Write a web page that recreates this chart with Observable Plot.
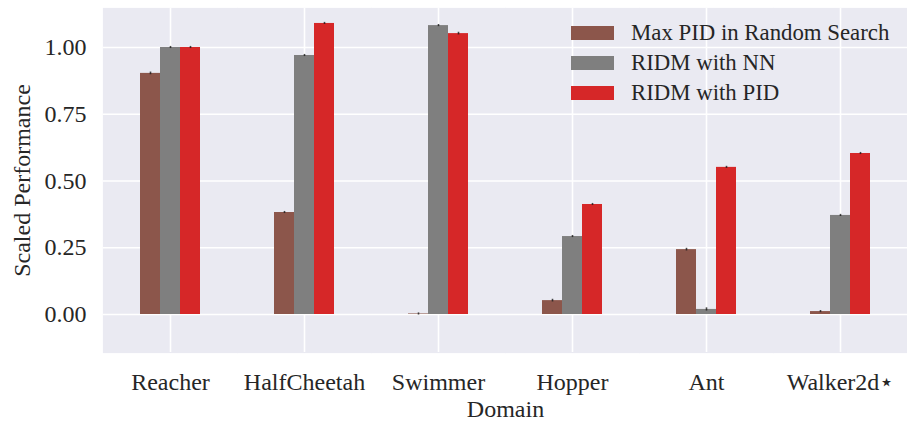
<!DOCTYPE html>
<html>
<head>
<meta charset="utf-8">
<script src="https://cdn.jsdelivr.net/npm/d3@7"></script>
<script src="https://cdn.jsdelivr.net/npm/@observablehq/plot@0.6"></script>
<style>
  body { margin: 0; background: #fff; }
  #chart { position: relative; width: 907px; height: 422px; font-family: "Liberation Serif", serif; }
  .legend { position: absolute; left: 571px; top: 18px; color: #262626; font-size: 22.8px; line-height: 1; }
  .legend .row { display: flex; align-items: center; height: 30px; }
  .legend .sw { width: 43px; height: 14px; margin-right: 17px; flex: none; }
</style>
</head>
<body>
<div id="chart"></div>
<script>
// Benchmark domains and the three methods compared in each
const domains = ["Reacher", "HalfCheetah", "Swimmer", "Hopper", "Ant", "Walker2d\u22C6"];
const series = ["Max PID in Random Search", "RIDM with NN", "RIDM with PID"];
const colors = ["#8c564b", "#7f7f7f", "#d62728"];

// Mean scaled performance per domain, one array per method
const maxPidRandom = [0.903, 0.382, 0.002, 0.052, 0.243, 0.011];
const ridmNN       = [1.000, 0.970, 1.082, 0.292, 0.019, 0.371];
const ridmPID      = [1.000, 1.090, 1.052, 0.412, 0.551, 0.603];

// Half-width of the error bars
const errMaxPid = [0.005, 0.004, 0.004, 0.005, 0.005, 0.004];
const errNN     = [0.004, 0.004, 0.004, 0.004, 0.006, 0.004];
const errPID    = [0.004, 0.004, 0.005, 0.004, 0.004, 0.004];

const yTicks = [0, 0.25, 0.5, 0.75, 1.0];

const values = [maxPidRandom, ridmNN, ridmPID];
const errs = [errMaxPid, errNN, errPID];
const rows = [];
domains.forEach((d, i) => {
  series.forEach((s, j) => {
    rows.push({domain: d, series: s, value: values[j][i], err: errs[j][i]});
  });
});

const chart = Plot.plot({
  width: 907,
  height: 422,
  marginLeft: 103,
  marginRight: 0,
  marginTop: 8,
  marginBottom: 70,
  style: {fontFamily: "'Liberation Serif', serif", fontSize: "24px", color: "#262626", background: "transparent"},
  fx: {domain: domains, padding: 0},
  x: {domain: series, paddingInner: 0, paddingOuter: 1.85, axis: null},
  y: {domain: [-0.1423, 1.146]},
  color: {domain: series, range: colors},
  marks: [
    // panel background; slight overlap hides seams between facets
    Plot.frame({fill: "#eaeaf2", stroke: null, inset: -0.6}),
    Plot.gridY({ticks: yTicks, stroke: "white", strokeOpacity: 1, strokeWidth: 1.6}),
    Plot.gridFx({stroke: "white", strokeOpacity: 1, strokeWidth: 1.6}),
    Plot.barY(rows, {fx: "domain", x: "series", y: "value", fill: "series", inset: 0}),
    Plot.ruleX(rows, {
      fx: "domain", x: "series",
      y1: d => d.value - d.err, y2: d => d.value + d.err,
      stroke: "#1a1a1a", strokeOpacity: 0.8, strokeWidth: 1.6
    }),
    Plot.axisY({
      ticks: yTicks, tickFormat: ".2f", tickSize: 0, tickPadding: 17,
      label: "Scaled Performance", labelAnchor: "center", labelArrow: "none", labelOffset: 91,
      fontSize: 24
    }),
    Plot.axisFx({
      anchor: "bottom", tickSize: 0, tickPadding: 20,
      label: "Domain", labelAnchor: "center", labelOffset: 64
    })
  ]
});

const host = document.getElementById("chart");
host.appendChild(chart);

// Legend drawn over the upper right of the plot area
const legend = document.createElement("div");
legend.className = "legend";
series.forEach((s, j) => {
  const row = document.createElement("div");
  row.className = "row";
  const sw = document.createElement("span");
  sw.className = "sw";
  sw.style.background = colors[j];
  const label = document.createElement("span");
  label.textContent = s;
  row.appendChild(sw);
  row.appendChild(label);
  legend.appendChild(row);
});
host.appendChild(legend);
</script>
</body>
</html>
